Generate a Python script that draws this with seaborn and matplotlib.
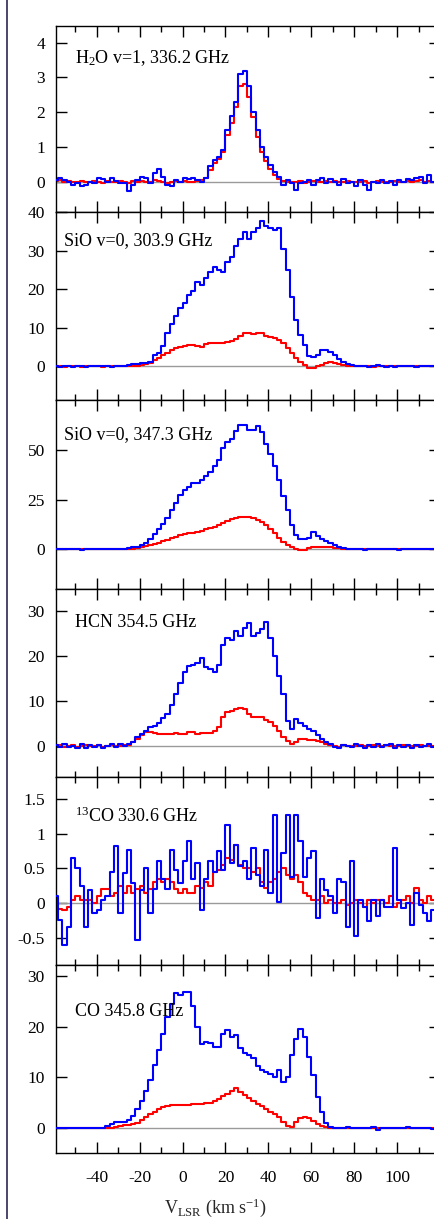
import numpy as np
import matplotlib
matplotlib.use("Agg")
import matplotlib.pyplot as plt
from matplotlib.lines import Line2D
from matplotlib.ticker import MultipleLocator, FixedLocator, FuncFormatter, NullLocator
import seaborn as sns

# Channel centres (km/s), common to every spectrum
vel = np.arange(-59, 121, 2)

# H2O v=1, 336.2 GHz
h2o_blue = [
    0.05, 0.12, 0.05, -0.02, -0.10, -0.05, -0.12, -0.08, 0.00, -0.05,
    0.12, 0.08, -0.02, 0.10, 0.02, -0.05, -0.05, -0.28, -0.10, 0.05,
    0.15, 0.10, -0.05, 0.25, 0.38, 0.15, -0.10, -0.12, 0.05, 0.00,
    0.10, 0.08, 0.10, 0.05, 0.00, 0.12, 0.45, 0.62, 0.70, 0.90,
    1.50, 1.90, 2.30, 3.10, 3.20, 2.75, 2.00, 1.50, 1.00, 0.72,
    0.48, 0.29, 0.14, -0.10, 0.05, -0.05, -0.25, -0.05, 0.00, 0.05,
    -0.08, 0.05, 0.10, -0.05, 0.08, 0.00, -0.08, 0.08, -0.05, 0.00,
    -0.12, 0.05, -0.10, -0.25, 0.00, -0.05, 0.05, -0.05, 0.02, -0.10,
    0.05, -0.02, 0.08, 0.05, 0.12, 0.15, -0.05, 0.20, 0.00, 0.02,
]
h2o_red = [
    0.02, 0.05, 0.00, 0.02, -0.02, 0.00, 0.03, -0.02, 0.00, 0.02,
    0.00, -0.03, 0.02, 0.00, -0.02, 0.03, 0.00, -0.05, 0.02, 0.00,
    0.03, -0.02, 0.00, 0.05, 0.02, 0.00, -0.03, 0.00, 0.02, 0.00,
    0.02, 0.00, -0.02, 0.03, 0.05, 0.10, 0.35, 0.55, 0.65, 0.85,
    1.35, 1.70, 2.15, 2.75, 2.80, 2.45, 1.85, 1.30, 0.85, 0.60,
    0.38, 0.20, 0.08, 0.02, 0.00, -0.02, 0.00, 0.02, -0.03, 0.00,
    0.02, 0.00, -0.02, 0.03, 0.00, 0.02, -0.02, 0.00, 0.03, 0.00,
    -0.02, 0.00, 0.02, -0.03, 0.00, 0.02, 0.00, -0.02, 0.00, 0.03,
    0.00, -0.02, 0.02, 0.00, 0.03, 0.05, 0.00, 0.02, 0.00, 0.02,
]

# SiO v=0, 303.9 GHz
sio304_blue = [
    0.0, -0.2, 0.0, 0.0, -0.1, 0.0, 0.0, -0.1, 0.0, 0.0,
    0.0, 0.0, 0.0, -0.1, 0.0, 0.0, 0.1, 0.3, 0.5, 0.6,
    0.7, 0.9, 1.2, 2.8, 3.5, 5.2, 8.5, 11.0, 13.0, 15.0,
    16.5, 18.5, 19.5, 21.8, 21.0, 23.0, 24.5, 25.8, 25.0, 24.5,
    27.0, 28.5, 31.2, 33.0, 35.0, 33.0, 35.0, 36.0, 37.8, 36.5,
    35.8, 35.5, 35.8, 30.5, 25.0, 18.0, 12.0, 8.0, 5.5, 2.6,
    2.5, 3.0, 4.3, 4.3, 3.8, 2.8, 1.8, 1.0, 0.5, 0.2,
    0.1, 0.0, 0.0, -0.1, 0.0, 0.3, 0.0, -0.1, 0.0, -0.1,
    0.0, 0.0, 0.0, 0.0, -0.1, 0.0, 0.0, 0.0, 0.0, 0.0,
]
sio304_red = [
    0.0, 0.0, -0.1, 0.0, 0.0, 0.0, -0.1, 0.0, 0.0, 0.0,
    0.0, -0.1, 0.0, 0.0, 0.0, 0.0, 0.0, 0.0, 0.0, 0.1,
    0.2, 0.5, 0.9, 1.5, 2.2, 2.8, 3.5, 4.2, 4.7, 5.0,
    5.3, 5.6, 5.5, 5.3, 5.1, 5.8, 6.0, 6.0, 5.9, 6.0,
    6.2, 6.6, 7.0, 7.8, 8.5, 8.6, 8.3, 8.6, 8.5, 7.9,
    7.6, 7.3, 6.9, 6.0, 4.6, 3.5, 2.2, 1.2, 0.2, -0.5,
    -0.4, 0.0, 0.3, 0.8, 1.0, 0.8, 0.5, 0.2, 0.0, 0.0,
    0.0, 0.0, 0.0, 0.0, -0.1, 0.0, 0.0, 0.0, 0.0, 0.0,
    0.0, 0.0, 0.0, 0.0, 0.0, 0.0, 0.0, 0.0, 0.0, 0.0,
]

# SiO v=0, 347.3 GHz
sio347_blue = [
    0.0, 0.0, 0.0, 0.0, 0.0, 0.0, -0.5, 0.0, 0.0, 0.0,
    0.0, 0.0, 0.0, 0.0, 0.0, 0.0, 0.0, 0.5, 0.8, 1.2,
    2.0, 3.0, 5.0, 7.5, 10.0, 12.5, 15.5, 19.5, 23.5, 27.5,
    30.0, 31.5, 33.3, 33.5, 35.0, 37.0, 39.0, 42.0, 45.0, 51.0,
    54.0, 55.5, 59.5, 63.0, 62.5, 60.0, 60.0, 62.0, 59.0, 53.0,
    48.0, 42.0, 35.0, 27.0, 19.5, 12.0, 7.0, 5.2, 4.9, 5.8,
    8.5, 6.5, 5.0, 4.0, 3.0, 2.0, 1.2, 0.5, 0.1, 0.0,
    0.0, 0.0, -0.5, 0.0, 0.0, 0.0, 0.0, 0.0, 0.0, 0.0,
    -0.5, 0.0, 0.0, 0.0, 0.0, 0.0, 0.0, 0.0, 0.0, 0.0,
]
sio347_red = [
    0.0, 0.0, 0.0, 0.0, 0.0, 0.0, 0.0, 0.0, 0.0, 0.0,
    0.0, 0.0, 0.0, 0.0, 0.0, 0.0, 0.0, 0.0, 0.2, 0.6,
    1.0, 1.3, 1.9, 2.5, 3.2, 3.8, 4.5, 5.4, 6.2, 7.0,
    7.5, 8.0, 8.3, 8.7, 9.3, 10.0, 10.6, 11.3, 12.2, 13.0,
    14.0, 15.0, 15.7, 16.2, 16.2, 16.0, 15.5, 14.7, 13.5, 12.0,
    10.0, 7.9, 5.5, 3.5, 1.8, 0.8, 0.0, -0.5, -0.3, 0.6,
    1.1, 1.2, 1.2, 1.2, 1.1, 0.7, 0.4, 0.1, 0.0, 0.0,
    0.0, 0.0, 0.0, 0.0, 0.0, 0.0, 0.0, 0.0, 0.0, 0.0,
    0.0, 0.0, 0.0, 0.0, 0.0, 0.0, 0.0, 0.0, 0.0, 0.0,
]

# HCN 354.5 GHz
hcn_blue = [
    0.2, -0.3, 0.4, -0.2, 0.0, -0.5, 0.3, -0.4, 0.1, -0.3,
    0.2, -0.4, 0.0, 0.5, -0.2, 0.3, 0.0, 0.4, 0.8, 2.0,
    2.6, 3.3, 4.2, 4.5, 5.0, 6.2, 7.0, 9.0, 11.5, 14.0,
    16.5, 17.8, 18.0, 18.5, 19.5, 17.5, 17.0, 16.5, 18.0, 22.5,
    24.0, 23.5, 25.5, 24.5, 26.3, 27.2, 24.5, 25.0, 26.0, 27.5,
    24.0, 20.0, 15.5, 11.5, 5.5, 3.8, 5.9, 5.0, 4.4, 3.7,
    3.3, 2.4, 1.6, 0.9, 0.5, -0.3, -0.5, 0.1, 0.0, -0.3,
    0.3, 0.0, -0.4, 0.2, -0.2, 0.4, -0.3, 0.1, 0.3, -0.5,
    0.2, -0.3, 0.1, -0.4, 0.2, -0.2, 0.0, 0.3, -0.3, 0.2,
]
hcn_red = [
    -0.2, 0.1, -0.3, 0.0, 0.1, -0.2, 0.0, 0.1, -0.1, 0.0,
    0.1, -0.2, 0.0, 0.1, 0.0, -0.1, 0.1, 0.2, 0.8, 1.6,
    2.5, 3.1, 3.0, 2.8, 2.7, 2.7, 2.6, 2.7, 2.8, 2.6,
    2.7, 3.0, 3.1, 2.7, 2.9, 2.8, 2.9, 3.3, 4.2, 6.5,
    7.5, 7.8, 8.1, 8.5, 8.2, 7.0, 6.4, 6.3, 6.3, 5.8,
    5.2, 4.5, 3.2, 2.0, 1.0, 0.3, 0.8, 1.6, 1.5, 1.4,
    1.2, 1.0, 0.8, 0.4, 0.2, 0.0, -0.2, 0.1, 0.0, -0.1,
    0.0, 0.1, -0.1, 0.0, 0.1, -0.1, 0.0, 0.1, 0.0, -0.1,
    0.0, 0.1, 0.0, -0.1, 0.0, 0.1, 0.0, -0.1, 0.0, 0.1,
]

# 13CO 330.6 GHz
co13_blue = [
    0.10, -0.24, -0.60, -0.34, 0.65, 0.50, 0.24, -0.34, 0.19, -0.14,
    -0.10, 0.05, 0.10, 0.45, 0.82, -0.14, 0.43, 0.77, 0.29, -0.53,
    0.19, 0.50, -0.14, 0.20, 0.60, 0.34, 0.20, 0.77, 0.48, 0.29,
    0.60, 0.89, 0.34, 0.58, -0.10, 0.34, 0.60, 0.45, 0.75, 0.48,
    1.13, 0.58, 0.84, 0.53, 0.60, 0.34, 0.79, 0.41, 0.24, 0.77,
    0.14, 1.27, 0.02, 0.72, 1.27, 0.38, 1.27, 0.89, 0.38, 0.65,
    0.75, -0.22, 0.34, 0.19, 0.10, -0.14, 0.34, 0.30, -0.34, 0.60,
    -0.48, 0.05, -0.05, -0.26, 0.05, -0.19, 0.05, -0.05, -0.05, 0.79,
    0.05, -0.07, 0.00, -0.31, 0.14, -0.02, -0.14, -0.26, -0.10, -0.20,
]
co13_red = [
    -0.10, -0.08, -0.10, -0.05, 0.05, 0.10, 0.05, 0.05, 0.05, 0.00,
    0.10, 0.20, 0.20, 0.10, 0.15, 0.25, 0.15, 0.25, 0.15, 0.20,
    0.25, 0.15, 0.20, 0.30, 0.35, 0.30, 0.35, 0.30, 0.20, 0.15,
    0.20, 0.15, 0.15, 0.25, 0.22, 0.30, 0.24, 0.45, 0.48, 0.55,
    0.65, 0.62, 0.84, 0.55, 0.50, 0.50, 0.45, 0.50, 0.30, 0.22,
    0.30, 0.35, 0.45, 0.50, 0.40, 0.35, 0.40, 0.30, 0.15, 0.10,
    0.05, 0.05, 0.10, 0.00, 0.05, 0.00, 0.00, 0.05, -0.02, 0.00,
    0.05, 0.00, -0.05, 0.05, 0.00, 0.05, 0.05, 0.00, 0.10, -0.05,
    0.00, 0.05, 0.10, 0.00, 0.22, 0.05, 0.00, 0.10, 0.05, 0.00,
]

# CO 345.8 GHz
co_blue = [
    0.0, 0.0, 0.0, 0.0, 0.0, 0.0, 0.0, 0.0, 0.0, 0.0,
    0.0, 0.1, 0.4, 0.8, 1.2, 1.3, 1.3, 1.7, 2.4, 3.9,
    5.4, 7.3, 9.6, 12.5, 15.3, 18.5, 21.8, 24.5, 26.6, 26.2,
    26.8, 26.8, 24.0, 20.0, 16.5, 17.0, 16.8, 16.0, 16.0, 18.5,
    19.3, 18.0, 18.3, 15.7, 14.8, 14.5, 13.8, 12.3, 11.5, 11.0,
    10.6, 10.0, 11.5, 9.2, 10.0, 14.5, 17.5, 19.6, 18.0, 14.0,
    10.5, 6.2, 3.2, 1.1, 0.3, 0.0, 0.0, 0.0, 0.3, 0.0,
    0.0, 0.0, 0.0, 0.0, 0.3, -0.3, 0.0, 0.0, 0.0, 0.0,
    0.0, 0.0, 0.2, 0.0, 0.0, 0.0, 0.0, 0.0, -0.2, 0.0,
]
co_red = [
    0.0, 0.0, 0.0, 0.0, 0.0, 0.0, 0.0, 0.0, 0.0, 0.0,
    0.0, 0.0, 0.0, 0.0, 0.2, 0.5, 0.6, 0.7, 0.9, 1.1,
    1.7, 2.3, 2.8, 3.3, 3.8, 4.2, 4.4, 4.6, 4.6, 4.6,
    4.6, 4.6, 4.7, 4.7, 4.8, 4.9, 5.0, 5.4, 5.8, 6.3,
    6.8, 7.4, 7.9, 7.2, 6.5, 5.9, 5.4, 4.8, 4.3, 3.8,
    3.3, 2.9, 2.2, 1.3, 0.5, 0.2, 1.2, 2.0, 2.2, 2.0,
    1.5, 0.9, 0.5, 0.2, 0.0, 0.0, 0.0, 0.0, 0.0, 0.0,
    0.0, 0.0, 0.0, 0.0, 0.0, 0.0, 0.0, 0.0, 0.0, 0.0,
    0.0, 0.0, 0.0, 0.0, 0.0, 0.0, 0.0, 0.0, 0.0, 0.0,
]

line_names = [
    r"H$_2$O v=1, 336.2 GHz",
    "SiO v=0, 303.9 GHz",
    "SiO v=0, 347.3 GHz",
    "HCN 354.5 GHz",
    r"$^{13}$CO 330.6 GHz",
    "CO 345.8 GHz",
]
blue_series = [h2o_blue, sio304_blue, sio347_blue, hcn_blue, co13_blue, co_blue]
red_series = [h2o_red, sio304_red, sio347_red, hcn_red, co13_red, co_red]
y_limits = [(-0.88, 4.49), (-8.8, 40.0), (-20.4, 75.4), (-7.0, 34.8), (-0.89, 1.81), (-4.9, 32.1)]
y_ticks = [[0, 1, 2, 3, 4], [0, 10, 20, 30, 40], [0, 25, 50], [0, 10, 20, 30],
           [-0.5, 0, 0.5, 1, 1.5], [0, 10, 20, 30]]
x_ticks = [-40, -20, 0, 20, 40, 60, 80, 100]

sns.set_theme(style="ticks")
plt.rcParams.update({
    "font.family": ["Liberation Serif", "DejaVu Serif"],
    "mathtext.fontset": "custom",
    "mathtext.rm": "Liberation Serif",
    "mathtext.it": "Liberation Serif:italic",
    "mathtext.bf": "Liberation Serif:bold",
    "axes.unicode_minus": False,
    "axes.edgecolor": "black",
    "axes.linewidth": 1.0,
    "xtick.color": "black",
    "ytick.color": "black",
})

W, H = 434, 1219
fig = plt.figure(figsize=(W / 100, H / 100), dpi=100)

left_px, right_px = 56, 440
edges = [25.7, 212.3, 400.0, 589.3, 777.3, 965.0, 1153.3]
label_pos = [(75, 32), (64, 28), (64, 35), (75, 33), (75, 39), (75, 47)]

fmt = FuncFormatter(lambda v, p: f"{v:g}")
axes = []
for i in range(6):
    top, bot = edges[i], edges[i + 1]
    ax = fig.add_axes([left_px / W, 1 - bot / H, (right_px - left_px) / W, (bot - top) / H])
    ax.axhline(0, color="#9a9a9a", lw=1.0, zorder=1)
    sns.lineplot(x=vel, y=red_series[i], color="#ff0000", lw=1.5,
                 drawstyle="steps-mid", ax=ax, zorder=2)
    sns.lineplot(x=vel, y=blue_series[i], color="#0000ff", lw=1.5,
                 drawstyle="steps-mid", ax=ax, zorder=3)
    ax.set_xlim(-59, 120)
    ax.set_ylim(*y_limits[i])
    ax.set_yticks(y_ticks[i])
    ax.yaxis.set_major_formatter(fmt)
    ax.yaxis.set_minor_locator(NullLocator())
    ax.xaxis.set_major_locator(FixedLocator(x_ticks))
    ax.xaxis.set_minor_locator(MultipleLocator(10))
    ax.xaxis.set_major_formatter(fmt)
    ax.tick_params(axis="both", which="both", direction="in", top=True, right=True,
                   bottom=True, left=True, width=1.0, labelsize=12.5, colors="black")
    ax.tick_params(axis="both", which="major", length=8)
    ax.tick_params(axis="both", which="minor", length=4)
    ax.tick_params(axis="y", pad=8)
    ax.tick_params(axis="x", pad=12, labelbottom=(i == 5))
    ax.set_xlabel("")
    ax.set_ylabel("")
    for s in ax.spines.values():
        s.set_linewidth(1.0)
        s.set_color("black")
    lx, dy = label_pos[i]
    ax.text((lx - left_px) / (right_px - left_px), 1 - dy / (bot - top), line_names[i],
            transform=ax.transAxes, ha="left", va="center", fontsize=13, color="black")
    axes.append(ax)

axes[-1].set_xlabel(r"V$_{\rm LSR}$ (km s$^{-1}$)", fontsize=13)
axes[-1].xaxis.set_label_coords((215 - left_px) / (right_px - left_px), -0.228)

fig.add_artist(Line2D([6.5 / W, 6.5 / W], [0, 1], color="#1c1248", lw=1.1,
                      transform=fig.transFigure))

fig.savefig("out.png", dpi=100)
